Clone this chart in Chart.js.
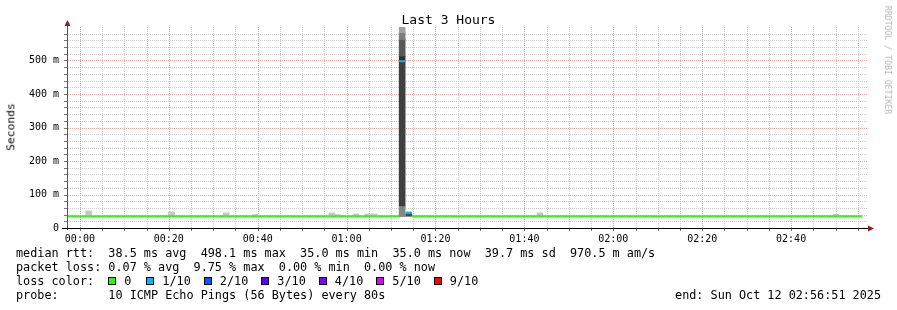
<!DOCTYPE html>
<html>
<head>
<meta charset="utf-8">
<title>Last 3 Hours</title>
<script src="https://cdn.jsdelivr.net/npm/chart.js@4.4.1/dist/chart.umd.min.js"></script>
<style>
  html, body { margin: 0; padding: 0; background: #fff; }
  #wrap { position: relative; width: 897px; height: 310px; overflow: hidden; background: #fff;
          font-family: "DejaVu Sans Mono", monospace; color: #000; }
  #chart { position: absolute; left: 0; top: 0; }
  .title { position: absolute; left: 0; top: 13px; width: 897px; text-align: center;
           font-size: 13px; line-height: 13px; }
  .ylabel { position: absolute; left: 11px; top: 127px; font-size: 11.3px; line-height: 1; font-weight: normal;
            color: #000; white-space: nowrap; transform: translate(-50%, -50%) rotate(-90deg); }
  .mark { position: absolute; left: 888px; top: 60px; font-size: 8.2px; line-height: 1; color: #b4b4b4;
          white-space: nowrap; transform: translate(-50%, -50%) rotate(90deg); }
  .legend { position: absolute; left: 16px; top: 246px; font-size: 11.8px; line-height: 14px; white-space: pre; }
  .item { display: inline-block; }
  .box { display: inline-block; width: 8px; height: 8px; box-sizing: border-box; border: 1px solid #000; margin-right: 8px; }
  .end { position: absolute; right: 16px; top: 288px; font-size: 11.8px; line-height: 14px; white-space: pre; }
</style>
</head>
<body>
<div id="wrap">
  <canvas id="chart" width="897" height="310"></canvas>
  <div class="title">Last 3 Hours</div>
  <div class="ylabel">Seconds</div>
  <div class="mark">RRDTOOL / TOBI OETIKER</div>
  <div class="legend">median rtt:  38.5 ms avg  498.1 ms max  35.0 ms min  35.0 ms now  39.7 ms sd  970.5 m am/s
packet loss: 0.07 % avg  9.75 % max  0.00 % min  0.00 % now
loss color:  <span id="lossColors"></span>
probe:       10 ICMP Echo Pings (56 Bytes) every 80s</div>
  <div class="end">end: Sun Oct 12 02:56:51 2025</div>
</div>
<script>
// minutes since 00:00, values in ms
const xTickMinutes = [0, 20, 40, 60, 80, 100, 120, 140, 160];
const xTickLabels = ["00:00", "00:20", "00:40", "01:00", "01:20", "01:40", "02:00", "02:20", "02:40"];
const yTickValues = [0, 100, 200, 300, 400, 500];
const yTickLabels = ["0", "100 m", "200 m", "300 m", "400 m", "500 m"];

// median rtt, one entry per stretch of constant median / loss
const segStart = [-2.9, 71.8, 73.3, 74.7];
const segEnd = [71.8, 73.3, 74.7, 176.0];
const segMedian = [35, 498, 46, 35];
const segLoss = [0, 1, 1, 0];

// small smoke bumps above the median
const blipMinute = [2.0, 20.6, 32.9, 39.4, 56.7, 58.1, 62.1, 64.8, 66.2, 103.5, 170.1];
const blipTop = [51, 48, 45, 40, 45, 40, 42, 42, 42, 45, 41];
const blipBase = 35;

// smoke of the spike samples
const spikeMinute = [72.5, 72.5, 72.5, 72.5, 72.5, 72.5, 74.0];
const spikeLow = [34, 66, 498, 513, 563, 583, 35];
const spikeHigh = [66, 498, 513, 563, 583, 600, 43];

const lossLabels = ["0", "1/10", "2/10", "3/10", "4/10", "5/10", "9/10"];
const lossColors = ["#26ff00", "#00b8ff", "#0059ff", "#5e00ff", "#7e00ff", "#dd00ff", "#ff0000"];

const spikeShades = ["#858585", "#404040", "#303030", "#585858", "#7e7e7e", "#a2a2a2", "#4a4a4a"];
const BLIP = "#c6c6c6";
const MAJOR = "#f3a0a0";
const MINOR = "#cccccc";
const FONT = "DejaVu Sans Mono";

document.getElementById("lossColors").innerHTML = lossLabels.map((l, i) => {
  const w = i === 0 ? 38 : (i === lossLabels.length - 1 ? 40 : 57.5);
  return `<span class="item" style="width:${w}px"><span class="box" style="background:${lossColors[i]}"></span>${l}</span>`;
}).join("");

const smokeData = [];
const smokeColors = [];
blipMinute.forEach((m, i) => { smokeData.push({ x: m, y: [blipBase, blipTop[i]] }); smokeColors.push(BLIP); });
spikeMinute.forEach((m, i) => { smokeData.push({ x: m, y: [spikeLow[i], spikeHigh[i]] }); smokeColors.push(spikeShades[i]); });

const medianSets = segStart.map((s, i) => ({
  type: "line",
  data: [{ x: s, y: segMedian[i] }, { x: segEnd[i], y: segMedian[i] }],
  borderColor: lossColors[segLoss[i]],
  borderWidth: 2,
  pointRadius: 0,
  tension: 0,
  order: 0,
}));

const xGrid = [];
for (let m = 0; m <= 175; m += 5) xGrid.push(m);
const yGrid = [];
for (let v = 20; v <= 580; v += 20) yGrid.push(v);

// dotted rrdtool style grid, drawn under the data
const gridPlugin = {
  id: "rrdGrid",
  beforeDatasetsDraw(chart) {
    const { ctx, chartArea: a, scales } = chart;
    ctx.save();
    const vline = (v, color) => {
      const px = Math.round(scales.x.getPixelForValue(v));
      ctx.fillStyle = color;
      for (let y = a.top; y < a.bottom; y += 2) ctx.fillRect(px, y, 1, 1);
    };
    const hline = (v, color) => {
      const py = Math.round(scales.y.getPixelForValue(v));
      ctx.fillStyle = color;
      for (let x = a.left + 1; x < a.right; x += 2) ctx.fillRect(x, py, 1, 1);
    };
    xGrid.filter((v) => v % 20 !== 0).forEach((v) => vline(v, MINOR));
    yGrid.filter((v) => v % 100 !== 0).forEach((v) => hline(v, MINOR));
    xGrid.filter((v) => v % 20 === 0).forEach((v) => vline(v, MAJOR));
    yGrid.filter((v) => v % 100 === 0).forEach((v) => hline(v, MAJOR));
    ctx.restore();
  },
  afterDatasetsDraw(chart) {
    const { ctx, chartArea: a, scales } = chart;
    ctx.save();
    ctx.fillStyle = "#777";
    xGrid.forEach((v) => ctx.fillRect(Math.round(scales.x.getPixelForValue(v)), a.bottom + 1, 1, 2));
    yGrid.forEach((v) => ctx.fillRect(a.left - 3, Math.round(scales.y.getPixelForValue(v)), 3, 1));
    ctx.lineWidth = 1;
    ctx.strokeStyle = "#555";
    ctx.beginPath();
    ctx.moveTo(a.left + 0.5, a.bottom + 2);
    ctx.lineTo(a.left + 0.5, a.top - 4);
    ctx.stroke();
    ctx.strokeStyle = "#000";
    ctx.beginPath();
    ctx.moveTo(a.left - 5, a.bottom + 0.5);
    ctx.lineTo(a.right + 2, a.bottom + 0.5);
    ctx.stroke();
    ctx.fillStyle = "#8b2020";
    ctx.beginPath();
    ctx.moveTo(a.left + 0.5, a.top - 7);
    ctx.lineTo(a.left - 2.5, a.top - 1);
    ctx.lineTo(a.left + 3.5, a.top - 1);
    ctx.closePath();
    ctx.fill();
    ctx.beginPath();
    ctx.moveTo(a.right + 6, a.bottom + 0.5);
    ctx.lineTo(a.right, a.bottom - 2.5);
    ctx.lineTo(a.right, a.bottom + 3.5);
    ctx.closePath();
    ctx.fill();
    ctx.restore();
  },
};

new Chart(document.getElementById("chart"), {
  type: "bar",
  data: {
    datasets: [
      {
        type: "bar",
        data: smokeData,
        backgroundColor: smokeColors,
        borderWidth: 0,
        barThickness: 6,
        grouped: false,
        order: 1,
      },
      ...medianSets,
    ],
  },
  options: {
    responsive: false,
    animation: false,
    devicePixelRatio: 1,
    layout: { padding: { left: 0, top: 27, right: 29, bottom: 62 } },
    plugins: { legend: { display: false }, tooltip: { enabled: false }, title: { display: false } },
    scales: {
      x: {
        type: "linear",
        min: -2.9,
        max: 177.3,
        offset: false,
        afterFit: (s) => { s.height = 20; },
        afterBuildTicks: (s) => { s.ticks = xTickMinutes.map((v) => ({ value: v })); },
        grid: { display: false, drawTicks: false, offset: false },
        border: { display: false },
        ticks: {
          autoSkip: false,
          maxRotation: 0,
          padding: 5,
          color: "#000",
          font: { family: FONT, size: 10 },
          callback: (v) => { const i = xTickMinutes.indexOf(v); return i >= 0 ? xTickLabels[i] : ""; },
        },
      },
      y: {
        min: 0,
        max: 600,
        afterFit: (s) => { s.width = 67; },
        afterBuildTicks: (s) => { s.ticks = yTickValues.map((v) => ({ value: v })); },
        grid: { display: false, drawTicks: false },
        border: { display: false },
        ticks: {
          autoSkip: false,
          padding: 8,
          color: "#000",
          font: { family: FONT, size: 10 },
          callback: (v) => { const i = yTickValues.indexOf(v); return i >= 0 ? yTickLabels[i] : ""; },
        },
      },
    },
  },
  plugins: [gridPlugin],
});
</script>
</body>
</html>
